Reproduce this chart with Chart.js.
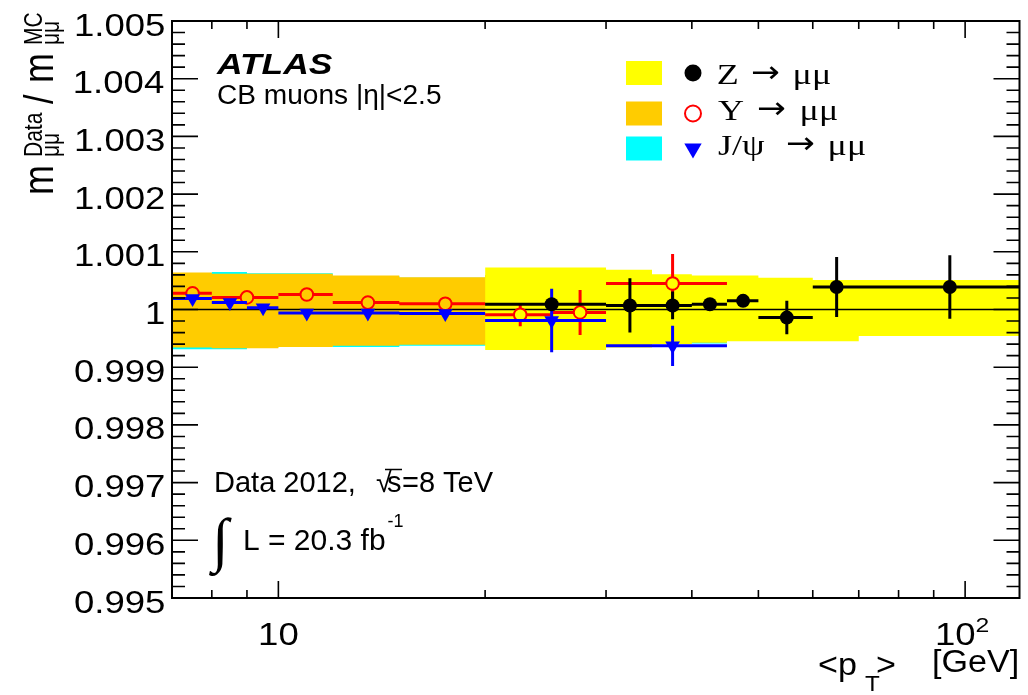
<!DOCTYPE html>
<html>
<head>
<meta charset="utf-8">
<script src="https://cdn.jsdelivr.net/npm/chart.js@4.4.1/dist/chart.umd.min.js"></script>
<style>
  html, body { margin: 0; padding: 0; background: #fff; overflow: hidden; }
  canvas { display: block; }
</style>
</head>
<body>
<canvas id="chart" width="1028" height="695"></canvas>
<script>
/* Data / MC dimuon mass ratio vs <pT>, ATLAS CB muons. */
const X_MIN = 7, X_MAX = 120;
const Y_MIN = 0.995, Y_MAX = 1.005;

// Z -> mumu
const zEdges = [20, 30, 35, 40, 45, 50, 60, 70, 120];
const zPt = [25, 32.5, 37.5, 42.5, 47.5, 55, 65, 95];
const zRatio = [1.00009, 1.00007, 1.00007, 1.00009, 1.00015, 0.99986, 1.00039, 1.00039];
const zStat = [0.00004, 0.00047, 0.00024, 0.00005, 0.00005, 0.00029, 0.00052, 0.00055];
const zSystUp = [0.00073, 0.00069, 0.00061, 0.00059, 0.00059, 0.00055, 0.00051, 0.00051];
const zSystDown = [0.00070, 0.00066, 0.00060, 0.00057, 0.00055, 0.00055, 0.00055, 0.00046];

// Upsilon -> mumu
const upsEdges = [7, 8, 10, 12, 15, 20, 25, 30, 45];
const upsPt = [7.5, 9, 11, 13.5, 17.5, 22.5, 27.5, 37.5];
const upsRatio = [1.00028, 1.00021, 1.00026, 1.00012, 1.00010, 0.99991, 0.99995, 1.00045];
const upsStat = [0.00003, 0.00003, 0.00004, 0.00004, 0.00005, 0.00020, 0.00039, 0.00051];
const upsSystUp = [0.00064, 0.00062, 0.00062, 0.00059, 0.00056, 0.00060, 0.00060, 0.00055];
const upsSystDown = [0.00066, 0.00067, 0.00065, 0.00063, 0.00061, 0.00062, 0.00062, 0.00057];

// J/psi -> mumu
const jpsiEdges = [7, 8, 9, 10, 12, 15, 20, 30, 45];
const jpsiPt = [7.5, 8.5, 9.5, 11, 13.5, 17.5, 25, 37.5];
const jpsiRatio = [1.00019, 1.00012, 1.00003, 0.99994, 0.99994, 0.99993, 0.99981, 0.99937];
const jpsiStat = [0.00003, 0.00003, 0.00003, 0.00003, 0.00004, 0.00005, 0.00055, 0.00035];
const jpsiSystUp = [0.00063, 0.00065, 0.00063, 0.00063, 0.00058, 0.00055, 0.00060, 0.00050];
const jpsiSystDown = [0.00069, 0.00069, 0.00066, 0.00064, 0.00065, 0.00063, 0.00062, 0.00059];

const yTickValues = [0.995, 0.996, 0.997, 0.998, 0.999, 1, 1.001, 1.002, 1.003, 1.004, 1.005];
const yTickLabels = ['0.995', '0.996', '0.997', '0.998', '0.999', '1', '1.001', '1.002', '1.003', '1.004', '1.005'];
const xTickValues = [10, 100];
const xTickLabels = [['10', ''], ['10', '2']];

const SANS = '"Liberation Sans", Arial, Helvetica, sans-serif';
const SERIF = '"Liberation Serif", "Times New Roman", serif';
const YELLOW = '#ffff00', ORANGE = '#ffcc00', CYAN = '#00ffff';

function bandEdge(edges, offs, sign) {
  const pts = [];
  offs.forEach((o, i) => {
    pts.push({ x: edges[i], y: 1 + sign * o }, { x: edges[i + 1], y: 1 + sign * o });
  });
  return pts;
}
function errorBars(edges, pt, val, err) {
  const pts = [];
  val.forEach((v, i) => {
    pts.push({ x: edges[i], y: v }, { x: edges[i + 1], y: v }, { x: edges[i + 1], y: null });
    pts.push({ x: pt[i], y: v - err[i] }, { x: pt[i], y: v + err[i] }, { x: pt[i], y: null });
  });
  return pts;
}
const markers = (pt, val) => pt.map((x, i) => ({ x, y: val[i] }));

function band(edges, up, down, color, order) {
  return [
    { data: bandEdge(edges, up, 1), fill: '+1', backgroundColor: color, borderColor: 'rgba(0,0,0,0)', borderWidth: 0, pointRadius: 0, order },
    { data: bandEdge(edges, down, -1), fill: false, borderColor: 'rgba(0,0,0,0)', borderWidth: 0, pointRadius: 0, order },
  ];
}
function bars(edges, pt, val, err, color, order) {
  return { data: errorBars(edges, pt, val, err), borderColor: color, borderWidth: 3, borderCapStyle: 'butt', pointRadius: 0, fill: false, spanGaps: false, order };
}

const datasets = [
  ...band(jpsiEdges, jpsiSystUp, jpsiSystDown, CYAN, 20),
  ...band(upsEdges, upsSystUp, upsSystDown, ORANGE, 19),
  ...band(zEdges, zSystUp, zSystDown, YELLOW, 18),
  { data: [{ x: X_MIN, y: 1 }, { x: X_MAX, y: 1 }], borderColor: '#000', borderWidth: 1.6, pointRadius: 0, fill: false, order: 17 },
  bars(upsEdges, upsPt, upsRatio, upsStat, '#ff0000', 16),
  { data: markers(upsPt, upsRatio), showLine: false, pointStyle: 'circle', pointRadius: 6.3, pointBorderWidth: 2,
    pointBorderColor: '#ff0000', pointBackgroundColor: (c) => (c.raw && c.raw.x < 20 ? ORANGE : YELLOW), order: 15 },
  bars(jpsiEdges, jpsiPt, jpsiRatio, jpsiStat, '#0000ff', 14),
  { data: markers(jpsiPt, jpsiRatio), showLine: false, pointStyle: 'triangle', pointRotation: 180, pointRadius: 8.5,
    pointBorderWidth: 0, pointBackgroundColor: '#0000ff', pointBorderColor: '#0000ff', order: 13 },
  bars(zEdges, zPt, zRatio, zStat, '#000000', 12),
  { data: markers(zPt, zRatio), showLine: false, pointStyle: 'circle', pointRadius: 7,
    pointBorderWidth: 0, pointBackgroundColor: '#000', pointBorderColor: '#000', order: 11 },
];

function put(ctx, s, x, y, o = {}) {
  ctx.save();
  ctx.font = `${o.style || 'normal'} ${o.weight || 'normal'} ${o.size || 28}px ${o.family || SANS}`;
  ctx.fillStyle = '#000';
  ctx.textAlign = 'left';
  ctx.textBaseline = 'alphabetic';
  const sx = o.sx || 1;
  const m = ctx.measureText(s);
  let dx = 0;
  if (o.align === 'inkRight') dx = -m.actualBoundingBoxRight * sx;
  if (o.align === 'inkLeft') dx = m.actualBoundingBoxLeft * sx;
  if (o.align === 'center') dx = -m.width * sx / 2;
  ctx.translate(x + dx, y);
  ctx.scale(sx, 1);
  ctx.fillText(s, 0, 0);
  ctx.restore();
  return m.width * sx;
}

const frame = {
  id: 'frame',
  afterDatasetsDraw(chart) {
    const { ctx, chartArea: a, scales: { x, y } } = chart;
    ctx.save();
    ctx.strokeStyle = '#000';
    ctx.lineWidth = 1.6;
    ctx.beginPath();
    for (let k = 0; k <= 50; k++) {
      const py = y.getPixelForValue(Y_MIN + k * 0.0002);
      const len = k % 5 === 0 ? 26 : 13;
      ctx.moveTo(a.left, py); ctx.lineTo(a.left + len, py);
      ctx.moveTo(a.right, py); ctx.lineTo(a.right - len, py);
    }
    for (let d = 1; d <= 100; d *= 10) {
      for (let m = 1; m <= 9; m++) {
        const v = m * d;
        if (v < X_MIN || v > X_MAX) continue;
        const px = x.getPixelForValue(v);
        const len = m === 1 ? 17 : 8;
        ctx.moveTo(px, a.bottom); ctx.lineTo(px, a.bottom - len);
        ctx.moveTo(px, a.top); ctx.lineTo(px, a.top + len);
      }
    }
    ctx.stroke();
    ctx.lineWidth = 2;
    ctx.strokeRect(a.left, a.top, a.right - a.left, a.bottom - a.top);
    ctx.restore();
  },
  afterDraw(chart) {
    const { ctx, scales: { x, y } } = chart;
    // tick labels
    y.ticks.forEach((t, i) => {
      put(ctx, yTickLabels[i], 164, y.getPixelForValue(t.value) + 14.5, { size: 31, sx: 1.18, align: 'inkRight' });
    });
    x.ticks.forEach((t, i) => {
      const [base, sup] = xTickLabels[i];
      ctx.font = `31px ${SANS}`;
      const wb = ctx.measureText(base).width * 1.18;
      ctx.font = `21px ${SANS}`;
      const ws = sup ? ctx.measureText(sup).width * 1.18 : 0;
      const x0 = x.getPixelForValue(t.value) - (wb + ws) / 2 - (sup ? 3 : 0);
      put(ctx, base, x0, 645, { size: 31, sx: 1.18 });
      if (sup) put(ctx, sup, x0 + wb, 632, { size: 21, sx: 1.18 });
    });

    // axis titles
    put(ctx, '<p', 818, 675, { size: 31, sx: 1.1 });
    put(ctx, 'T', 865, 691, { size: 22, sx: 1.1 });
    put(ctx, '>', 876, 675, { size: 31, sx: 1.1 });
    put(ctx, '[GeV]', 932, 672, { size: 31, sx: 1.1 });

    ctx.save();
    ctx.translate(53, 195);
    ctx.rotate(-Math.PI / 2);
    ctx.scale(1, 1.2);
    put(ctx, 'm', 0, 0, { size: 36 });
    put(ctx, 'Data', 38, -9, { size: 21 });
    put(ctx, 'μμ', 38, 5, { size: 21 });
    put(ctx, '/', 91, 0, { size: 34 });
    put(ctx, 'm', 112, 0, { size: 36 });
    put(ctx, 'MC', 150, -9, { size: 21 });
    put(ctx, 'μμ', 150, 5, { size: 21 });
    ctx.restore();

    // labels
    put(ctx, 'ATLAS', 217, 74, { size: 30, weight: 'bold', style: 'italic', sx: 1.18 });
    put(ctx, 'CB muons |η|<2.5', 217, 104, { size: 27, sx: 1.04 });
    put(ctx, 'Data 2012,', 214, 492, { size: 29 });
    put(ctx, '√', 376, 492, { size: 29 });
    put(ctx, 's', 387, 492, { size: 29 });
    ctx.save();
    ctx.lineWidth = 1.5;
    ctx.beginPath(); ctx.moveTo(385, 469.5); ctx.lineTo(402, 469.5); ctx.stroke();
    ctx.restore();
    put(ctx, '=8 TeV', 402, 492, { size: 29 });
    put(ctx, '∫', 212, 560, { size: 60, family: SERIF });
    const wl = put(ctx, 'L = 20.3 fb', 243, 550, { size: 30 });
    put(ctx, '-1', 243 + wl + 2, 527, { size: 18 });

    // legend
    const rows = [
      { c: YELLOW, yc: 73, base: 84, parts: [['Z', 718], ['μμ', 795]], arrow: 752 },
      { c: ORANGE, yc: 113.5, base: 120, parts: [['Υ', 718], ['μμ', 802]], arrow: 758 },
      { c: CYAN, yc: 148.5, base: 155, parts: [['J/ψ', 718], ['μμ', 830]], arrow: 787 },
    ];
    const legPts = [
      { pointStyle: 'circle', radius: 8.5, borderWidth: 0, backgroundColor: '#000', borderColor: '#000' },
      { pointStyle: 'circle', radius: 8, borderWidth: 2, backgroundColor: '#fff', borderColor: '#ff0000' },
      { pointStyle: 'triangle', rotation: 180, radius: 10, borderWidth: 0, backgroundColor: '#0000ff', borderColor: '#0000ff' },
    ];
    rows.forEach((r, i) => {
      ctx.fillStyle = r.c;
      ctx.fillRect(626, r.yc - 12, 36, 24);
      ctx.save();
      ctx.fillStyle = legPts[i].backgroundColor;
      ctx.strokeStyle = legPts[i].borderColor;
      ctx.lineWidth = legPts[i].borderWidth || 1;
      Chart.helpers.drawPoint(ctx, legPts[i], 693, r.yc);
      ctx.restore();
      r.parts.forEach(([s, px]) => put(ctx, s, px, r.base, { size: 30, family: SERIF, sx: 1.2, align: 'inkLeft' }));
      put(ctx, '→', r.arrow, r.base - 2, { size: 30, family: '"DejaVu Sans", sans-serif', sx: 1.15, align: 'inkLeft' });
    });
  },
};

new Chart(document.getElementById('chart'), {
  type: 'line',
  data: { datasets },
  options: {
    responsive: false,
    animation: false,
    events: [],
    devicePixelRatio: 1,
    layout: { padding: { left: 0, right: 8, top: 21, bottom: 0 } },
    plugins: { legend: { display: false }, tooltip: { enabled: false } },
    scales: {
      x: {
        type: 'logarithmic', min: X_MIN, max: X_MAX,
        grid: { display: false }, border: { display: false }, ticks: { display: false },
        afterBuildTicks: (s) => { s.ticks = xTickValues.map((v) => ({ value: v })); },
        afterFit: (s) => { s.height = 97; },
      },
      y: {
        type: 'linear', min: Y_MIN, max: Y_MAX,
        grid: { display: false }, border: { display: false }, ticks: { display: false },
        afterBuildTicks: (s) => { s.ticks = yTickValues.map((v) => ({ value: v })); },
        afterFit: (s) => { s.width = 172; },
      },
    },
  },
  plugins: [frame],
});
</script>
</body>
</html>
